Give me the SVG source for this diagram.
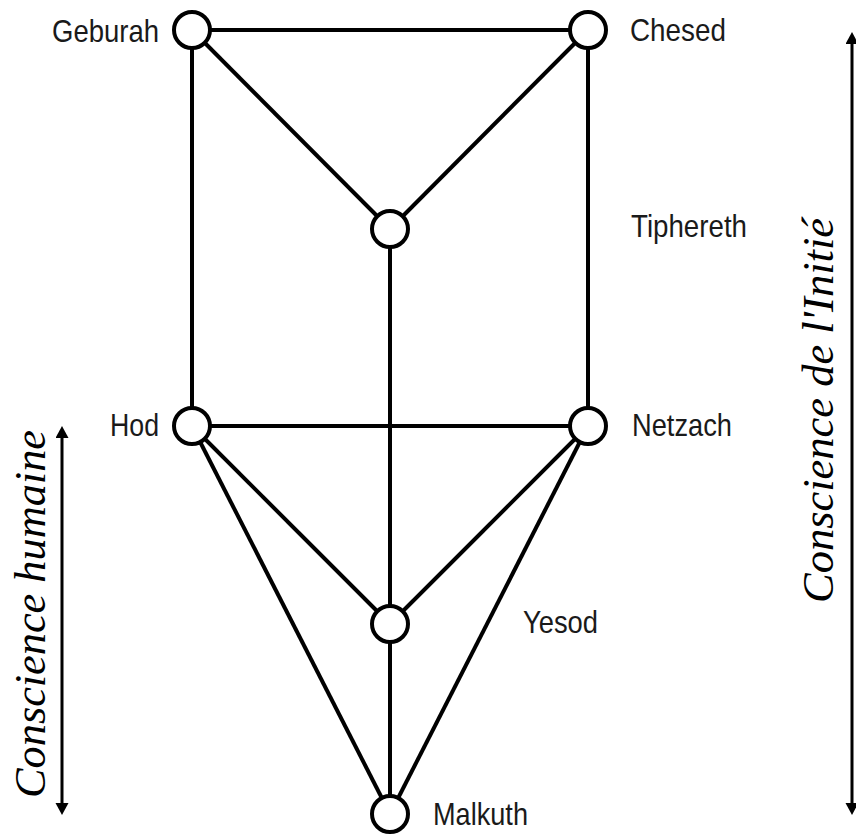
<svg xmlns="http://www.w3.org/2000/svg" width="856" height="835" viewBox="0 0 856 835">
<style>
.edge{stroke:#000;stroke-width:4;fill:none}
.node{fill:#fff;stroke:#000;stroke-width:4}
.lbl{font-family:"Liberation Sans",Arial,sans-serif;font-size:32px;fill:#1a1a1a}
.side{font-family:"Liberation Serif","Times New Roman",serif;font-style:italic;font-size:44px;fill:#000}
.arr{stroke:#000;stroke-width:3;fill:none}
</style>
<defs>
<marker id="ah" markerUnits="userSpaceOnUse" markerWidth="14" markerHeight="14" refX="0" refY="6.5" orient="auto-start-reverse" viewBox="0 0 14 14">
<path d="M0,0 L12,6.5 L0,13 z" fill="#000"/>
</marker>
</defs>
<rect width="856" height="835" fill="#fff"/>
<g id="connectors">
<line class="edge" x1="192" y1="30" x2="588" y2="30"/>
<line class="edge" x1="192" y1="30" x2="192" y2="426"/>
<line class="edge" x1="588" y1="30" x2="588" y2="426"/>
<line class="edge" x1="192" y1="30" x2="390" y2="229"/>
<line class="edge" x1="588" y1="30" x2="390" y2="229"/>
<line class="edge" x1="390" y1="229" x2="390" y2="624"/>
<line class="edge" x1="192" y1="426" x2="588" y2="426"/>
<line class="edge" x1="192" y1="426" x2="390" y2="624"/>
<line class="edge" x1="588" y1="426" x2="390" y2="624"/>
<line class="edge" x1="192" y1="426" x2="390" y2="814"/>
<line class="edge" x1="588" y1="426" x2="390" y2="814"/>
<line class="edge" x1="390" y1="624" x2="390" y2="814"/>
</g>
<g id="geburah"><circle class="node" cx="192" cy="30" r="18"/><text class="lbl" x="52" y="42" textLength="107" lengthAdjust="spacingAndGlyphs">Geburah</text></g>
<g id="chesed"><circle class="node" cx="588" cy="30" r="18"/><text class="lbl" x="630" y="41" textLength="96" lengthAdjust="spacingAndGlyphs">Chesed</text></g>
<g id="tiphereth"><circle class="node" cx="390" cy="229" r="18"/><text class="lbl" x="631" y="237" textLength="116" lengthAdjust="spacingAndGlyphs">Tiphereth</text></g>
<g id="hod"><circle class="node" cx="192" cy="426" r="18"/><text class="lbl" x="110" y="436" textLength="49" lengthAdjust="spacingAndGlyphs">Hod</text></g>
<g id="netzach"><circle class="node" cx="588" cy="426" r="18"/><text class="lbl" x="632" y="436" textLength="100" lengthAdjust="spacingAndGlyphs">Netzach</text></g>
<g id="yesod"><circle class="node" cx="390" cy="624" r="18"/><text class="lbl" x="523" y="633" textLength="75" lengthAdjust="spacingAndGlyphs">Yesod</text></g>
<g id="malkuth"><circle class="node" cx="390" cy="814" r="18"/><text class="lbl" x="433" y="825" textLength="95" lengthAdjust="spacingAndGlyphs">Malkuth</text></g>
<g id="conscience-humaine">
<line class="arr" x1="62" y1="438" x2="62" y2="803" marker-start="url(#ah)" marker-end="url(#ah)"/>
<text class="side" transform="translate(45,798) rotate(-90)" textLength="368" lengthAdjust="spacingAndGlyphs">Conscience humaine</text>
</g>
<g id="conscience-initie">
<line class="arr" x1="852" y1="44" x2="852" y2="803" marker-start="url(#ah)" marker-end="url(#ah)"/>
<text class="side" transform="translate(833,603) rotate(-90)" textLength="385" lengthAdjust="spacingAndGlyphs">Conscience de l'Initié</text>
</g>
</svg>
